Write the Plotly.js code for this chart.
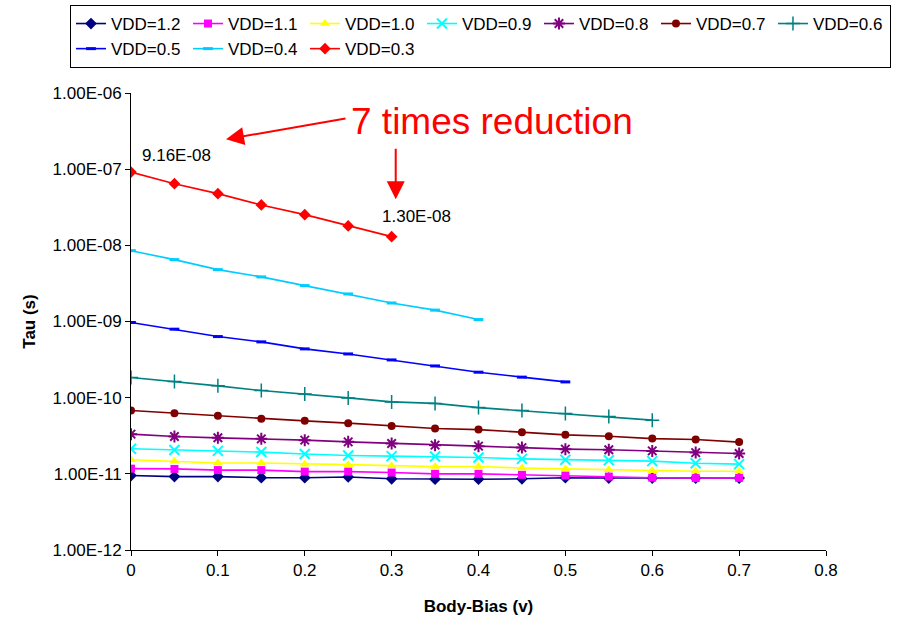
<!DOCTYPE html>
<html>
<head>
<meta charset="utf-8">
<script src="https://cdn.plot.ly/plotly-3.0.1.min.js"></script>
<style>html,body{margin:0;padding:0;background:#fff;}#chart{width:902px;height:626px;}</style>
</head>
<body>
<div id="chart"></div>
<script>
// Body-bias values (V)
const bodyBias = [0, 0.05, 0.1, 0.15, 0.2, 0.25, 0.3, 0.35, 0.4, 0.45, 0.5, 0.55, 0.6, 0.65, 0.7];

// Tau (s) per supply voltage
const tauVdd12 = [9.5e-12, 9.2e-12, 9.2e-12, 8.9e-12, 8.9e-12, 9.1e-12, 8.6e-12, 8.5e-12, 8.5e-12, 8.6e-12, 8.9e-12, 8.8e-12, 8.8e-12, 8.8e-12, 8.8e-12];
const tauVdd11 = [1.17e-11, 1.16e-11, 1.12e-11, 1.12e-11, 1.07e-11, 1.07e-11, 1.04e-11, 1.0e-11, 1.0e-11, 9.7e-12, 9.5e-12, 9.2e-12, 8.9e-12, 8.8e-12, 8.85e-12];
const tauVdd10 = [1.53e-11, 1.47e-11, 1.39e-11, 1.39e-11, 1.34e-11, 1.32e-11, 1.28e-11, 1.25e-11, 1.25e-11, 1.19e-11, 1.16e-11, 1.13e-11, 1.10e-11, 1.08e-11, 1.08e-11];
const tauVdd09 = [2.13e-11, 2.06e-11, 2.0e-11, 1.93e-11, 1.82e-11, 1.74e-11, 1.71e-11, 1.69e-11, 1.64e-11, 1.57e-11, 1.53e-11, 1.51e-11, 1.47e-11, 1.38e-11, 1.34e-11];
const tauVdd08 = [3.32e-11, 3.09e-11, 2.97e-11, 2.88e-11, 2.77e-11, 2.63e-11, 2.5e-11, 2.38e-11, 2.31e-11, 2.21e-11, 2.11e-11, 2.07e-11, 2.0e-11, 1.9e-11, 1.85e-11];
const tauVdd07 = [6.78e-11, 6.26e-11, 5.77e-11, 5.27e-11, 4.96e-11, 4.63e-11, 4.26e-11, 3.93e-11, 3.81e-11, 3.52e-11, 3.25e-11, 3.12e-11, 2.9e-11, 2.82e-11, 2.61e-11];
const tauVdd06 = [1.84e-10, 1.63e-10, 1.43e-10, 1.24e-10, 1.12e-10, 9.93e-11, 8.8e-11, 8.41e-11, 7.41e-11, 6.77e-11, 6.18e-11, 5.65e-11, 5.07e-11];
const tauVdd05 = [9.7e-10, 7.93e-10, 6.34e-10, 5.4e-10, 4.37e-10, 3.75e-10, 3.13e-10, 2.61e-10, 2.16e-10, 1.86e-10, 1.61e-10];
const tauVdd04 = [8.51e-9, 6.49e-9, 4.8e-9, 3.85e-9, 2.96e-9, 2.3e-9, 1.75e-9, 1.41e-9, 1.06e-9];
const tauVdd03 = [9.16e-8, 6.45e-8, 4.77e-8, 3.39e-8, 2.53e-8, 1.8e-8, 1.3e-8];

const seriesNames = ['VDD=1.2','VDD=1.1','VDD=1.0','VDD=0.9','VDD=0.8','VDD=0.7','VDD=0.6','VDD=0.5','VDD=0.4','VDD=0.3'];
const seriesValues = [tauVdd12, tauVdd11, tauVdd10, tauVdd09, tauVdd08, tauVdd07, tauVdd06, tauVdd05, tauVdd04, tauVdd03];

const yTickVals = [1e-12, 1e-11, 1e-10, 1e-9, 1e-8, 1e-7, 1e-6];
const yTickText = ['1.00E-12','1.00E-11','1.00E-10','1.00E-09','1.00E-08','1.00E-07','1.00E-06'];
const xTickVals = [0, 0.1, 0.2, 0.3, 0.4, 0.5, 0.6, 0.7, 0.8];
const xTickText = ['0','0.1','0.2','0.3','0.4','0.5','0.6','0.7','0.8'];

const styles = [
  {color:'#000080', symbol:'diamond', size:9},
  {color:'#FF00FF', symbol:'square', size:8},
  {color:'#FFFF00', symbol:'triangle-up', size:9},
  {color:'#00FFFF', symbol:'x-thin-open', size:10, lw:2},
  {color:'#800080', symbol:'asterisk-open', size:10, lw:2},
  {color:'#800000', symbol:'circle', size:8},
  {color:'#008080', symbol:'cross-thin-open', size:10, lw:1.5},
  {color:'#0000FF', symbol:'line-ew-open', size:7, lw:3},
  {color:'#00CCFF', symbol:'line-ew-open', size:7, lw:3},
  {color:'#FF0000', symbol:'diamond', size:9}
];

const FONT = 'Liberation Sans, Arial, sans-serif';

const traces = seriesValues.map((vals, i) => {
  const s = styles[i];
  return {
    type: 'scatter',
    mode: 'lines+markers',
    name: seriesNames[i],
    x: bodyBias.slice(0, vals.length),
    y: vals,
    line: {color: s.color, width: 1.6},
    marker: {color: s.color, symbol: s.symbol, size: s.size, line: {color: s.color, width: s.lw || 0}}
  };
});

const first03 = tauVdd03[0];
const last03 = tauVdd03[tauVdd03.length - 1];
const lastX03 = bodyBias[tauVdd03.length - 1];
const fmtE = v => v.toExponential(2).replace('e-', 'E-0').toUpperCase();

const layout = {
  width: 902, height: 626,
  paper_bgcolor: '#fff', plot_bgcolor: '#fff',
  margin: {l: 131, r: 76, t: 93, b: 76, autoexpand: false},
  font: {family: FONT, size: 17, color: '#000'},
  showlegend: true,
  legend: {
    orientation: 'h', x: -0.0878, y: 1.1926, xanchor: 'left', yanchor: 'top',
    bordercolor: '#000', borderwidth: 1, bgcolor: '#fff',
    font: {family: FONT, size: 17, color: '#000'},
    entrywidth: 72, entrywidthmode: 'pixels', itemwidth: 30,
    tracegroupgap: 0
  },
  xaxis: {
    range: [0, 0.8], tickvals: xTickVals, ticktext: xTickText,
    showgrid: false, zeroline: false, showline: true, linecolor: '#000', linewidth: 1,
    ticks: 'outside', ticklen: 5, tickcolor: '#000',
    tickfont: {family: FONT, size: 17},
    title: {text: '<b>Body-Bias (v)</b>', font: {family: FONT, size: 17}, standoff: 20}
  },
  yaxis: {
    type: 'log', range: [-12, -6], tickvals: yTickVals, ticktext: yTickText,
    showgrid: false, zeroline: false, showline: true, linecolor: '#000', linewidth: 1,
    ticks: 'outside', ticklen: 5, tickcolor: '#000',
    tickfont: {family: FONT, size: 17},
    title: {text: '<b>Tau (s)</b>', font: {family: FONT, size: 17}, standoff: 12}
  },
  annotations: [
    {xref:'paper', yref:'paper', x:0.52, y:0.9387, text:'7 times reduction', showarrow:false,
     font:{family: FONT, size: 37, color:'#FF0000'}, xanchor:'center', yanchor:'middle'},
    {xref:'paper', yref:'paper', x:0.1367, y:0.8987, text:'', showarrow:true, axref:'pixel', ayref:'pixel',
     ax:121, ay:-21, arrowcolor:'#FF0000', arrowwidth:2, arrowhead:2, arrowsize:1.8, standoff:0, startstandoff:0},
    {xref:'paper', yref:'paper', x:0.3809, y:0.7674, text:'', showarrow:true, axref:'pixel', ayref:'pixel',
     ax:0, ay:-52, arrowcolor:'#FF0000', arrowwidth:2, arrowhead:2, arrowsize:1.8, standoff:0, startstandoff:0},
    {xref:'x', yref:'y', x:bodyBias[0], y:Math.log10(first03), text:fmtE(first03),
     showarrow:false, xshift:45, yshift:17, font:{family: FONT, size: 17, color:'#000'}},
    {xref:'x', yref:'y', x:lastX03, y:Math.log10(last03), text:fmtE(last03),
     showarrow:false, xshift:25, yshift:20, font:{family: FONT, size: 17, color:'#000'}}
  ]
};

Plotly.newPlot('chart', traces, layout, {displayModeBar: false, staticPlot: true});
</script>
</body>
</html>
